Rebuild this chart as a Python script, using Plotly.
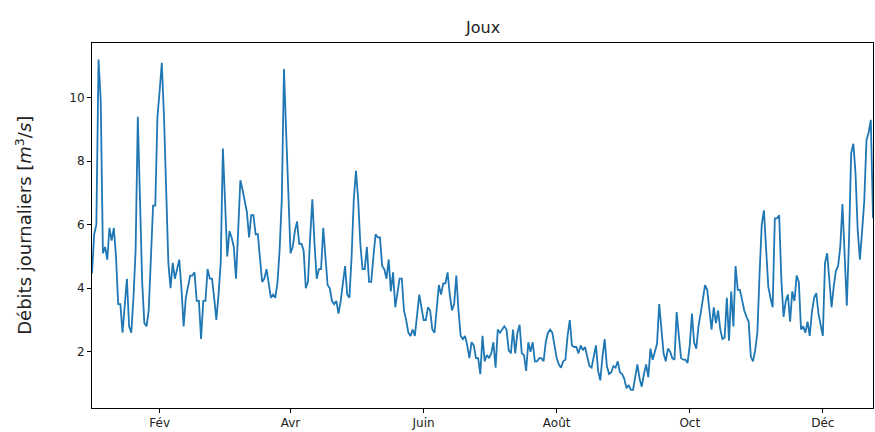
import pandas as pd
import plotly.graph_objects as go

start_date = "2020-01-01"

flow_jan_mar = [
    4.47, 5.7, 6.0, 11.2, 9.9, 5.1, 5.3, 4.9, 5.9, 5.5,
    5.9, 5.0, 3.5, 3.5, 2.6, 3.6, 4.3, 2.8, 2.6, 3.7,
    5.2, 9.4, 6.6, 4.2, 2.9, 2.8, 3.3, 5.2, 6.6, 6.6,
    9.4, 10.2, 11.1, 9.4, 7.3, 4.8, 4.0, 4.8, 4.3, 4.6,
    4.9, 4.0, 2.8, 3.7, 4.0, 4.4, 4.4, 4.5, 3.6, 3.6,
    2.4, 3.6, 3.6, 4.6, 4.3, 4.3, 3.7, 3.0, 3.8, 4.8,
    8.4, 6.5, 5.0, 5.8, 5.6, 5.3, 4.3, 5.8, 7.4, 7.1,
    6.8, 6.4, 5.6,
]
flow_mar_may = [
    6.3, 6.3, 5.7, 5.7, 5.0, 4.2, 4.3, 4.6, 4.15, 3.7,
    3.8, 3.7, 4.15, 5.2, 6.8, 10.9, 8.9, 6.8, 5.1, 5.3,
    5.8, 6.1, 5.4, 5.4, 5.2, 4.0, 4.2, 5.6, 6.8, 5.4,
    4.3, 4.6, 4.6, 5.9, 5.1, 4.1, 4.0, 3.6, 3.5, 3.6,
    3.2, 3.6, 4.15, 4.7, 3.8, 3.7, 5.0, 6.8, 7.7, 6.8,
    5.4, 4.6, 4.6, 5.3, 4.2, 4.2, 5.0, 5.7, 5.6, 5.6,
    4.7, 4.6, 4.3, 4.9, 3.9, 4.5, 3.4, 3.8, 4.3, 4.3,
    3.3,
]
flow_may_aug = [
    3.0, 2.6, 2.5, 2.7, 2.5, 3.2, 3.8, 3.4, 3.0, 3.0,
    3.4, 3.3, 2.7, 2.6, 3.3, 4.1, 3.8, 4.15, 4.15, 4.5,
    3.8, 3.3, 3.5, 4.4, 3.3, 2.5, 2.4, 2.5, 2.2, 1.8,
    2.3, 2.2, 1.8, 1.8, 1.3, 2.5, 1.7, 1.9, 1.8, 1.95,
    2.3, 1.5, 2.7, 2.6, 2.7, 2.8, 2.7, 2.05, 1.95, 2.7,
    1.95, 2.6, 2.85, 1.95, 1.9, 1.4, 2.3, 2.0, 2.3, 1.7,
    1.7, 1.8, 1.8, 1.7, 2.3, 2.6, 2.7, 2.6, 2.2, 1.8,
    1.6, 1.5,
]
flow_aug_oct = [
    1.7, 1.75, 2.5, 3.0, 2.2, 2.15, 2.15, 1.95, 2.2, 2.05,
    2.15, 1.85, 1.55, 1.5, 1.85, 2.2, 1.4, 1.1, 1.85, 2.4,
    1.55, 1.3, 1.35, 1.55, 1.5, 1.7, 1.35, 1.3, 1.15, 0.85,
    0.95, 0.8, 0.8, 1.2, 1.6, 1.15, 0.9, 1.3, 1.6, 1.2,
    2.1, 1.75, 2.0, 2.25, 3.5, 2.7, 1.95, 1.7, 2.1, 2.0,
    1.8, 1.75, 3.25, 2.5, 1.8, 1.75, 1.75, 1.65, 2.2, 3.2,
    2.3, 2.1, 2.8, 3.2, 3.7, 4.1, 3.95, 3.4,
]
flow_oct_dec = [
    2.7, 3.4, 2.9, 3.3, 2.7, 2.4, 2.45, 3.7, 2.35, 3.9,
    2.8, 4.7, 3.95, 3.95, 3.6, 3.3, 3.1, 2.95, 1.85, 1.7,
    2.05, 2.6, 4.45, 6.0, 6.45, 5.2, 4.05, 3.7, 3.4, 6.2,
    6.2, 6.3, 4.25, 3.1, 3.6, 3.8, 2.95, 3.9, 3.6, 4.4,
    4.2, 2.7, 2.8, 2.6, 2.95, 2.5, 3.25, 3.7, 3.85, 3.2,
    2.8, 2.5, 4.8, 5.1, 4.25, 3.4, 4.05, 4.55, 4.7, 5.3,
    6.65, 4.9, 3.45, 5.5, 8.25, 8.55, 7.6, 5.8, 4.9, 5.8,
    6.75, 8.65, 8.9, 9.3, 6.2,
]

flow = flow_jan_mar + flow_mar_may + flow_may_aug + flow_aug_oct + flow_oct_dec
dates = pd.date_range(start_date, periods=len(flow), freq="D")

tick_dates = ["2020-02-01", "2020-04-01", "2020-06-01", "2020-08-01", "2020-10-01", "2020-12-01"]
tick_labels = ["Fév", "Avr", "Juin", "Août", "Oct", "Déc"]
y_ticks = [2, 4, 6, 8, 10]

fig = go.Figure()
fig.add_trace(go.Scatter(
    x=dates, y=flow, mode="lines",
    line=dict(color="#1f77b4", width=1.8),
    showlegend=False, hoverinfo="skip",
))

axis_common = dict(
    showline=True, linecolor="black", linewidth=1, mirror=True,
    showgrid=False, zeroline=False,
    ticks="outside", ticklen=4, tickwidth=1, tickcolor="black",
    tickfont=dict(family="DejaVu Sans", size=12, color="#222"),
)

fig.update_layout(
    width=875, height=432,
    margin=dict(l=92, r=2, t=43, b=24),
    paper_bgcolor="white", plot_bgcolor="white",
    xaxis=dict(range=[dates[0], dates[-1]], tickvals=tick_dates, ticktext=tick_labels,
               **axis_common),
    yaxis=dict(range=[0.23, 11.72], tickvals=y_ticks, **axis_common),
    annotations=[
        dict(text="Joux", xref="paper", yref="paper", x=0.5, y=1.0, yshift=4,
             xanchor="center", yanchor="bottom", showarrow=False,
             font=dict(family="DejaVu Sans", size=16, color="#222")),
        dict(text="Débits journaliers [<i>m</i><sup>3</sup>/<i>s</i>]",
             xref="paper", yref="paper", x=-0.088, y=0.5, textangle=-90,
             xanchor="center", yanchor="middle", showarrow=False,
             font=dict(family="DejaVu Sans", size=18, color="#222")),
    ],
)

fig.write_html(
    "out.html",
    config={"displayModeBar": False},
    post_script="document.body.style.margin='0';document.body.style.padding='0';",
)
